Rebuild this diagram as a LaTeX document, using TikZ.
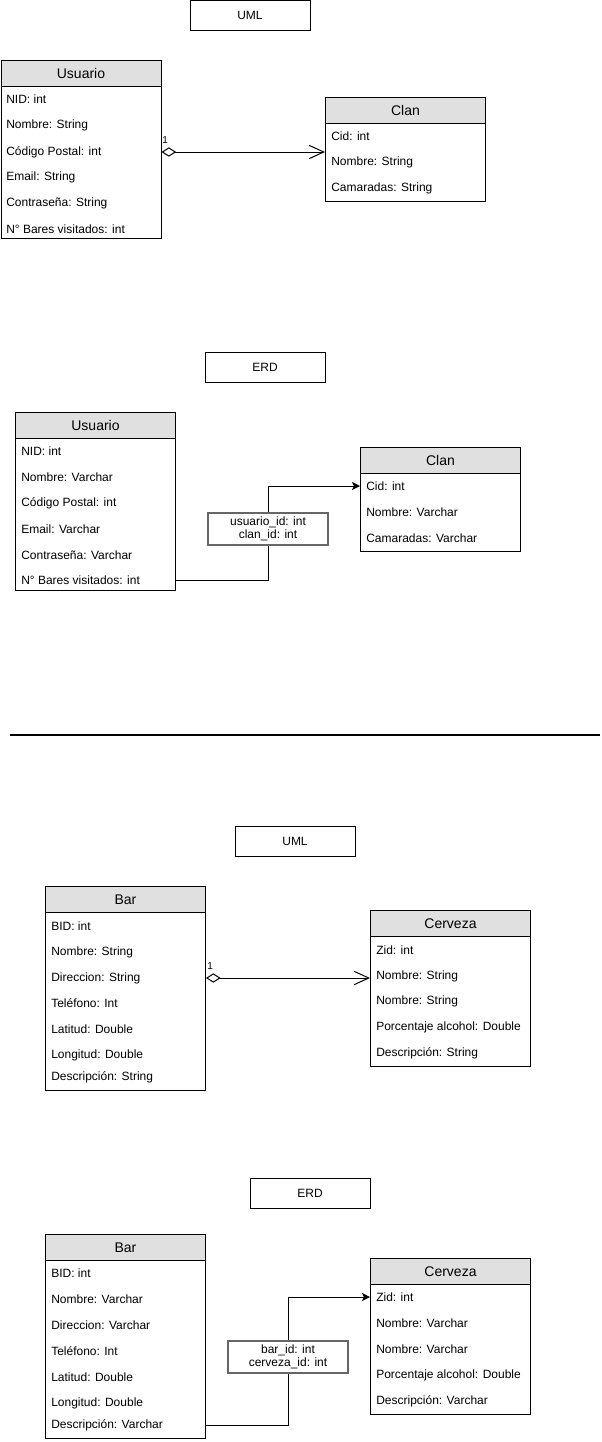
\documentclass[tikz,border=0pt]{standalone}
\usepackage{fontspec}
\setmainfont{Liberation Sans}
\usetikzlibrary{arrows.meta}
\definecolor{hdr}{HTML}{E0E0E0}
\definecolor{lblc}{HTML}{666666}
\tikzset{
  outer/.style={draw, line width=0.75pt, inner sep=0pt, anchor=north west, fill=white},
  headbox/.style={draw, line width=0.75pt, fill=hdr, inner sep=0pt, anchor=north west,
    minimum height=19.5pt, font=\fontsize{10.5}{12}\selectfont},
  rowtext/.style={anchor=west, inner sep=0pt, font=\fontsize{9}{11}\selectfont},
  titlebox/.style={draw, line width=0.75pt, minimum width=90pt, minimum height=22.5pt,
    inner sep=0pt, font=\fontsize{9}{11}\selectfont},
  linkbox/.style={draw=lblc, line width=0.9pt, fill=white, minimum width=90pt, minimum height=24pt,
    inner sep=0pt, align=center, font=\fontsize{9}{10}\selectfont},
  conn/.style={line width=0.75pt},
  umlarrow/.style={conn, {Diamond[open,length=11pt,width=7pt]}-{Straight Barb[length=11pt,width=10pt]}},
  erdarrow/.style={conn, -{Stealth[length=6pt,width=6pt,inset=1.5pt]}},
  mult/.style={anchor=south west, inner sep=0pt, font=\fontsize{7.5}{9}\selectfont},
}
\newcommand{\clsbox}[6]{%
  \node[outer, minimum width=#4*0.75pt, minimum height=#5*0.75pt] (#1) at (#2,#3) {};
  \node[headbox, minimum width=#4*0.75pt] (#1h) at (#2,#3) {#6};
}
\begin{document}
\begin{tikzpicture}[x=0.75pt,y=-0.75pt]
\useasboundingbox (0,0) rectangle (601,1442);

% ===== Top UML =====
\node[titlebox] (t1) at (250,15.5) {UML};
\clsbox{u1}{0.5}{60}{160}{178}{Usuario}
\node[rowtext] (u1r1) at (6,99) {NID: int};
\node[rowtext] (u1r2) at (6,125) {Nombre: String};
\node[rowtext] (u1r3) at (6,152) {Código Postal: int};
\node[rowtext] (u1r4) at (6,177) {Email: String};
\node[rowtext] (u1r5) at (6,203) {Contraseña: String};
\node[rowtext] (u1r6) at (6,229) {N° Bares visitados: int};

\clsbox{c1}{325}{97}{160}{104}{Clan}
\node[rowtext] (c1r1) at (331,136) {Cid: int};
\node[rowtext] (c1r2) at (331,162) {Nombre: String};
\node[rowtext] (c1r3) at (331,188) {Camaradas: String};

\draw[umlarrow] (u1.east |- u1r3) -- (c1.west |- u1r3);
\node[mult] (m1) at (162,144) {1};

% ===== Top ERD =====
\node[titlebox] (t2) at (265,367) {ERD};
\clsbox{u2}{15}{412}{160}{178}{Usuario}
\node[rowtext] (u2r1) at (21,451) {NID: int};
\node[rowtext] (u2r2) at (21,477) {Nombre: Varchar};
\node[rowtext] (u2r3) at (21,503) {Código Postal: int};
\node[rowtext] (u2r4) at (21,529) {Email: Varchar};
\node[rowtext] (u2r5) at (21,555) {Contraseña: Varchar};
\node[rowtext] (u2r6) at (21,580) {N° Bares visitados: int};

\clsbox{c2}{360}{447}{160}{104}{Clan}
\node[rowtext] (c2r1) at (366,486) {Cid: int};
\node[rowtext] (c2r2) at (366,512) {Nombre: Varchar};
\node[rowtext] (c2r3) at (366,538) {Camaradas: Varchar};

\coordinate (k1) at (268,529);
\draw[conn] (u2.east |- u2r6) -| (k1);
\draw[erdarrow] (k1) |- (c2.west |- c2r1);
\node[linkbox] (l1) at (k1) {usuario\_id: int\\clan\_id: int};

% ===== Separator =====
\coordinate (s1) at (10,735);
\coordinate (s2) at (600,735);
\draw[line width=1pt] (s1) -- (s2);

% ===== Bottom UML =====
\node[titlebox] (t3) at (295,841) {UML};
\clsbox{b1}{45}{886}{160}{204}{Bar}
\node[rowtext] (b1r1) at (51,926) {BID: int};
\node[rowtext] (b1r2) at (51,952) {Nombre: String};
\node[rowtext] (b1r3) at (51,978) {Direccion: String};
\node[rowtext] (b1r4) at (51,1003) {Teléfono: Int};
\node[rowtext] (b1r5) at (51,1029) {Latitud: Double};
\node[rowtext] (b1r6) at (51,1055) {Longitud: Double};
\node[rowtext] (b1r7) at (51,1077) {Descripción: String};

\clsbox{z1}{370}{910}{160}{156}{Cerveza}
\node[rowtext] (z1r1) at (376,950) {Zid: int};
\node[rowtext] (z1r2) at (376,976) {Nombre: String};
\node[rowtext] (z1r3) at (376,1001) {Nombre: String};
\node[rowtext] (z1r4) at (376,1027) {Porcentaje alcohol: Double};
\node[rowtext] (z1r5) at (376,1053) {Descripción: String};

\draw[umlarrow] (b1.east |- b1r3) -- (z1.west |- b1r3);
\node[mult] (m2) at (207,970) {1};

% ===== Bottom ERD =====
\node[titlebox] (t4) at (310,1193) {ERD};
\clsbox{b2}{45}{1234}{160}{204}{Bar}
\node[rowtext] (b2r1) at (51,1273) {BID: int};
\node[rowtext] (b2r2) at (51,1299) {Nombre: Varchar};
\node[rowtext] (b2r3) at (51,1325) {Direccion: Varchar};
\node[rowtext] (b2r4) at (51,1351) {Teléfono: Int};
\node[rowtext] (b2r5) at (51,1377) {Latitud: Double};
\node[rowtext] (b2r6) at (51,1403) {Longitud: Double};
\node[rowtext] (b2r7) at (51,1425) {Descripción: Varchar};

\clsbox{z2}{370}{1258}{160}{156}{Cerveza}
\node[rowtext] (z2r1) at (376,1297) {Zid: int};
\node[rowtext] (z2r2) at (376,1323) {Nombre: Varchar};
\node[rowtext] (z2r3) at (376,1349) {Nombre: Varchar};
\node[rowtext] (z2r4) at (376,1375) {Porcentaje alcohol: Double};
\node[rowtext] (z2r5) at (376,1401) {Descripción: Varchar};

\coordinate (k2) at (288,1357);
\draw[conn] (b2.east |- b2r7) -| (k2);
\draw[erdarrow] (k2) |- (z2.west |- z2r1);
\node[linkbox] (l2) at (k2) {bar\_id: int\\cerveza\_id: int};
\end{tikzpicture}
\end{document}
